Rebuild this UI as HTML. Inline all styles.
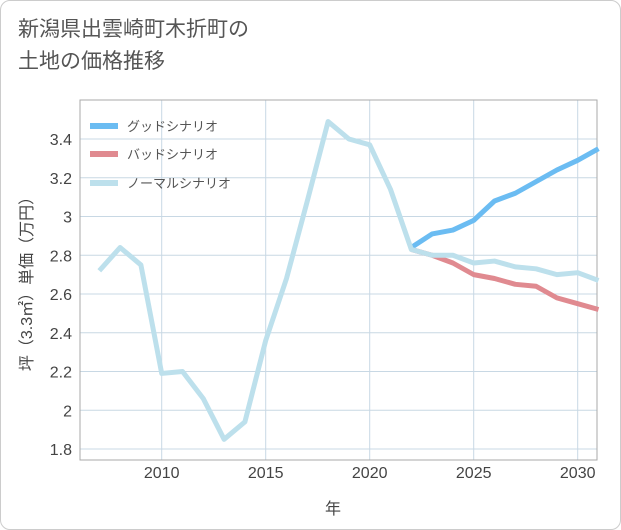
<!DOCTYPE html>
<html><head><meta charset="utf-8"><style>
body{margin:0;background:#fff;font-family:"Liberation Sans","Noto Sans CJK JP",sans-serif;}
#card{position:absolute;left:0;top:0;width:619px;height:528px;border:1px solid #ccc;border-radius:10px;background:#fff;}
#title{position:absolute;left:18px;top:14px;font-size:21px;line-height:32px;color:#555;}
</style></head><body>
<div id="card"></div>
<div id="title">新潟県出雲崎町木折町の<br>土地の価格推移</div>
<svg id="chart" width="621" height="530" style="position:absolute;left:0;top:0"></svg>
<script>
const years=[2007,2008,2009,2010,2011,2012,2013,2014,2015,2016,2017,2018,2019,2020,2021,2022,2023,2024,2025,2026,2027,2028,2029,2030,2031];
const normalVals=[2.72,2.84,2.75,2.19,2.20,2.06,1.85,1.94,2.36,2.68,3.08,3.49,3.40,3.37,3.14,2.83,2.80,2.80,2.76,2.77,2.74,2.73,2.70,2.71,2.67];
const futureYears=[2022,2023,2024,2025,2026,2027,2028,2029,2030,2031];
const goodVals=[2.84,2.91,2.93,2.98,3.08,3.12,3.18,3.24,3.29,3.35];
const badVals=[2.83,2.80,2.76,2.70,2.68,2.65,2.64,2.58,2.55,2.52];
const yTicks=[1.8,2,2.2,2.4,2.6,2.8,3,3.2,3.4];
const xTicks=[2010,2015,2020,2025,2030];
const NS="http://www.w3.org/2000/svg";
const svg=document.getElementById('chart');
const L=80,R=597,T=100,B=460;
const x=v=>161.7+(v-2010)*20.8;
const y=v=>449-(v-1.8)*193.75;
function el(t,a){const e=document.createElementNS(NS,t);for(const k in a)e.setAttribute(k,a[k]);svg.appendChild(e);return e;}
for(const t of yTicks){
 const g=el('line',{x1:L,x2:R,y1:y(t),y2:y(t),stroke:'#c8d8e4','stroke-width':1});
 
 
 const tx=el('text',{x:72,y:y(t)+6,'text-anchor':'end','font-size':16,fill:'#444'});
 tx.textContent=String(t);
 
 
}
for(const t of xTicks){
 const g=el('line',{x1:x(t),x2:x(t),y1:T,y2:B,stroke:'#c8d8e4','stroke-width':1});
 
 
 const tx=el('text',{x:x(t),y:478,'text-anchor':'middle','font-size':16,fill:'#444'});
 tx.textContent=String(t);
 
 
}
const fr=el('rect',{x:L,y:T,width:R-L,height:B-T,fill:'none',stroke:'#aaa','stroke-width':1});


function line(xs,vs,c,name){
 const p=el('polyline',{points:xs.map((v,i)=>x(v)+','+y(vs[i])).join(' '),fill:'none',stroke:c,'stroke-width':5,'stroke-linejoin':'round'});
 
 
}
line(futureYears,badVals,'#e08a90','bad-scenario-line');
line(futureYears,goodVals,'#6bbcf2','good-scenario-line');
line(years,normalVals,'#bde0ec','normal-scenario-line');
const leg=[['グッドシナリオ','#6bbcf2',126],['バッドシナリオ','#e08a90',154],['ノーマルシナリオ','#bde0ec',183]];
for(const [n,c,yy] of leg){
 const r=el('rect',{x:90,y:yy-3,width:28,height:6,fill:c});
 
 
 const t=el('text',{x:127,y:yy+5,'font-size':13,fill:'#555'});
 t.textContent=n;
 
 
}
const xl=el('text',{x:333,y:514,'text-anchor':'middle','font-size':16,fill:'#444'});
xl.textContent='年';


const yl=el('text',{x:0,y:0,'text-anchor':'middle','font-size':16,fill:'#444',transform:'translate(32,280) rotate(-90)'});
yl.textContent='坪（3.3㎡）単価（万円）';


</script>
</body></html>
